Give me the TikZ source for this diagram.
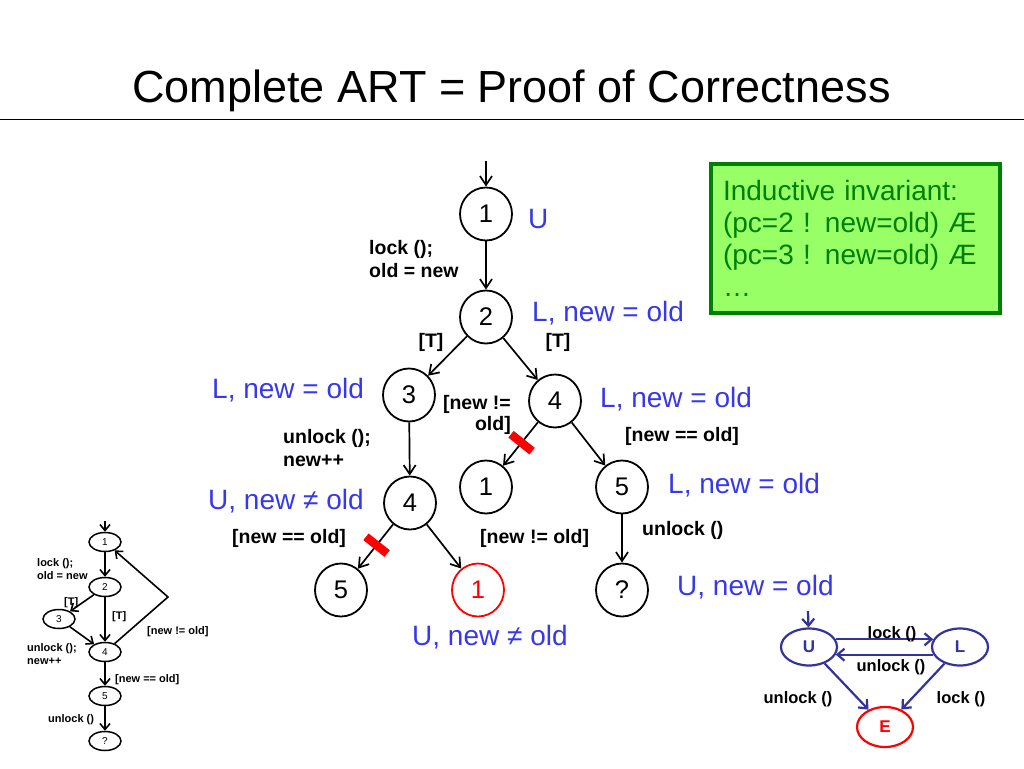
\documentclass[tikz,border=0pt]{standalone}
\usepackage{fontspec}
\setmainfont{Liberation Sans}
\usetikzlibrary{shapes.geometric,arrows.meta}
\definecolor{lblblue}{RGB}{55,55,235}
\definecolor{navy}{RGB}{51,51,153}
\definecolor{boxgreen}{RGB}{153,255,102}
\definecolor{dkgreen}{RGB}{0,128,0}
\begin{document}
\begin{tikzpicture}[x=1pt,y=-1pt,
  st/.style={draw, ellipse, line width=1.8pt, minimum width=52pt, minimum height=53pt, inner sep=0pt, font=\fontsize{25.5}{25.5}\selectfont},
  arr/.style={line width=1.7pt, -{Straight Barb[length=9pt,width=12pt]}},
  lbl/.style={text=lblblue, font=\fontsize{28}{28}\selectfont, anchor=west, inner sep=0pt},
  op/.style={font=\fontsize{19.5}{23}\selectfont\bfseries, inner sep=0pt, anchor=west, align=left},
  cut/.style={sloped, fill=red, minimum width=8.5pt, minimum height=27pt, inner sep=0pt},
  sm/.style={draw, ellipse, line width=1.5pt, minimum width=32pt, minimum height=19pt, inner sep=0pt, font=\fontsize{10}{10}\selectfont},
  sarr/.style={line width=1.6pt, -{Straight Barb[length=6pt,width=10pt]}},
  sop/.style={font=\fontsize{11}{13.5}\selectfont\bfseries, inner sep=0pt, anchor=west, align=left},
  fsm/.style={draw=navy, ellipse, line width=2.2pt, minimum width=56pt, minimum height=37pt, inner sep=0pt, text=navy, font=\fontsize{17}{17}\selectfont\bfseries},
  farr/.style={draw=navy, line width=2.2pt, -{Straight Barb[length=7pt,width=12pt]}},
  fop/.style={font=\fontsize{16.5}{16.5}\selectfont\bfseries, inner sep=0pt}
]
\fill[white] (0,0) rectangle (1024,768);
\useasboundingbox (0,0) rectangle (1024,768);

% title
\node[font=\fontsize{45}{45}\selectfont, anchor=base, inner sep=0pt] (title) at (511.5,102) {Complete ART = Proof of Correctness};
\draw[line width=1.2pt] (0,119.5) -- (1024,119.5);

% invariant box
\node[draw=dkgreen, fill=boxgreen, line width=4pt, anchor=north west, minimum width=289pt, minimum height=149pt,
      text width=265pt, align=left, inner sep=0pt, text=dkgreen, font=\fontsize{28}{32}\selectfont] (inv) at (709,162)
  {Inductive invariant:\\(pc=2 ! new=old) Æ\\(pc=3 ! new=old) Æ\\…};

% main tree
\node[st] (n1) at (486,214) {1};
\node[st] (n2) at (486,317) {2};
\node[st] (n3) at (409,395) {3};
\node[st] (n4) at (555,401) {4};
\node[st] (n4b) at (410,503) {4};
\node[st] (n1b) at (486,487) {1};
\node[st] (n5) at (622,487) {5};
\node[st] (n5b) at (341,590) {5};
\node[st, draw=red, text=red] (n1r) at (478,590) {1};
\node[st] (nq) at (622,590) {?};
\coordinate (in1) at (486,161);

\draw[arr] (in1) -- (n1);
\draw[arr] (n1) -- (n2);
\draw[arr] (n2) -- (n3);
\draw[arr] (n2) -- (n4);
\draw[arr] (n3) -- (n4b);
\draw[arr] (n4) -- node[cut, pos=0.47]{} (n1b);
\draw[arr] (n4) -- (n5);
\draw[arr] (n4b) -- node[cut, pos=0.47]{} (n5b);
\draw[arr] (n4b) -- (n1r);
\draw[arr] (n5) -- (nq);

% blue labels
\node[lbl] (l1) at (528,219) {U};
\node[lbl] (l2) at (532,313) {L, new = old};
\node[lbl] (l3) at (212,390) {L, new = old};
\node[lbl] (l4) at (600,399) {L, new = old};
\node[lbl] (l4b) at (208,501) {U, new \char"2260{} old};
\node[lbl] (l5) at (668,485) {L, new = old};
\node[lbl] (lq) at (677,587) {U, new = old};
\node[lbl] (l1r) at (412,637) {U, new \char"2260{} old};

% operation labels
\node[op] (o12) at (369,259.5) {lock ();\\old = new};
\node[op, anchor=center] (t1) at (431,342) {[T]};
\node[op, anchor=center] (t2) at (558,342) {[T]};
\node[op, anchor=east, align=right, font=\fontsize{19.5}{21}\selectfont\bfseries] (o41) at (511,414.5) {[new !=\\old]};
\node[op] (o34) at (283,448.5) {unlock ();\\new++};
\node[op] (o45) at (625,436) {[new == old]};
\node[op] (o4b5) at (232,538) {[new == old]};
\node[op] (o4b1) at (480,538) {[new != old]};
\node[op] (o5q) at (642,530) {unlock ()};

% small CFA
\node[sop] (so12) at (37,569) {lock ();\\old = new};
\node[sop] (st1) at (64,603) {[T]};
\node[sop] (st2) at (112,617) {[T]};
\node[sop] (sne) at (147,632) {[new != old]};
\node[sop] (so34) at (27,654) {unlock ();\\new++};
\node[sop] (seq) at (115,680) {[new == old]};
\node[sop] (sul) at (48,720) {unlock ()};

\node[sm, fill=white] (s1) at (105,542) {1};
\node[sm] (s2) at (105,587) {2};
\node[sm] (s3) at (59,619) {3};
\node[sm] (s4) at (105,652) {4};
\node[sm] (s5) at (105,696) {5};
\node[sm] (sq) at (105,741) {?};
\coordinate (sin) at (105,521);
\coordinate (sbend) at (168,597);

\draw[sarr] (sin) -- (s1);
\draw[sarr] (s1) -- (s2);
\draw[sarr] (s2) -- (s3);
\draw[sarr] (s2) -- (s4);
\draw[sarr] (s3) -- (s4);
\draw[sarr] (s4) -- (sbend) -- (s1);
\draw[sarr] (s4) -- (s5);
\draw[sarr] (s5) -- (sq);

% lock automaton
\node[fsm] (U) at (809,647) {U};
\node[fsm] (L) at (960,647) {L};
\node[fsm, draw=red, text=red, minimum height=40pt] (E) at (885,727) {E};
\coordinate (uin) at (808,611);
\draw[farr] (uin) -- (U);
\draw[farr] (U.16) -- (L.164);
\draw[farr] (L.196) -- (U.-16);
\draw[farr] (U) -- (E);
\draw[farr] (L) -- (E);
\node[fop] (fl1) at (892,634) {lock ()};
\node[fop] (fu1) at (891,667) {unlock ()};
\node[fop] (fu2) at (798,699) {unlock ()};
\node[fop] (fl2) at (961,699) {lock ()};
\end{tikzpicture}
\end{document}
